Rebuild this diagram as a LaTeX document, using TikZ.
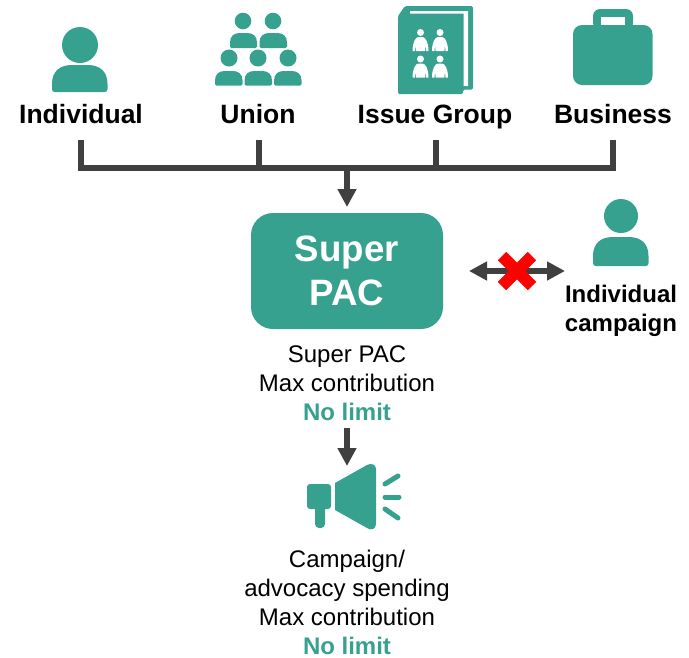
\documentclass[tikz,border=0pt]{standalone}
\usepackage{fontspec}
\setmainfont{Liberation Sans}
\usetikzlibrary{arrows.meta}
\definecolor{teal1}{HTML}{36A18E}
\definecolor{dark1}{HTML}{404040}
\newcommand{\pxfont}[2]{\fontsize{#1}{#2}\selectfont}
\newcommand{\bodyshape}[5]{% x1 x2 ytop ybottom radius
  \fill[teal1] (#1+#5*0.15,#4) -- (#2-#5*0.15,#4) .. controls (#2-#5*0.05,#4) and (#2,#4-#5*0.05) .. (#2,#4-#5*0.15)
  -- (#2,#3+#5*0.95) .. controls (#2,#3+#5*0.3) and (#2-#5*0.4,#3) .. (#2-#5,#3) -- (#1+#5,#3)
  .. controls (#1+#5*0.4,#3) and (#1,#3+#5*0.3) .. (#1,#3+#5*0.95) -- (#1,#4-#5*0.15) .. controls (#1,#4-#5*0.05) and (#1+#5*0.05,#4) .. (#1+#5*0.15,#4) -- cycle;}
\newcommand{\smallfig}[2]{%
  \begin{scope}[shift={(#1,#2)}]
  \fill[white] (0,-7) circle (3.5);
  \fill[white] (-8,11.5) .. controls (-8,3) and (-5,-2.5) .. (-2,-2.5) -- (2,-2.5) .. controls (5,-2.5) and (8,3) .. (8,11.5) -- (5.5,11.5) -- (5,5) -- (4.4,11.5) -- (-4.4,11.5) -- (-5,5) -- (-5.5,11.5) -- cycle;
  \end{scope}}
\tikzset{
  lbl/.style={font=\bfseries\pxfont{26.5}{30},text=black,inner sep=0pt,anchor=base},
  txt/.style={font=\pxfont{24}{29},text=black,align=center,inner sep=0pt},
  bus/.style={draw=dark1,line width=5.5pt},
  arr/.style={draw=dark1,line width=6pt,-{Triangle[length=18pt,width=18pt]}},
  darr/.style={draw=dark1,line width=6pt,{Triangle[length=18pt,width=18pt]}-{Triangle[length=18pt,width=18pt]}},
  pacbox/.style={fill=teal1,rounded corners=22pt,minimum width=192pt,minimum height=116pt,inner sep=0pt,align=center,text=white,font=\bfseries\pxfont{36.7}{44}},
  cross/.style={draw=red,line width=12pt},
  mega/.style={draw=teal1,line width=5pt,line cap=round},
}
\begin{document}
\begin{tikzpicture}[x=1pt,y=-1pt]
\useasboundingbox (0,0) rectangle (689,657);
% individual
\fill[teal1] (80,45) circle (18);
\bodyshape{52}{107.5}{65}{92}{20}
% union
\foreach \x in {243,273}{\fill[teal1] (\x,21) circle (8.3);}
\bodyshape{230}{257}{33}{48}{10}
\bodyshape{259.5}{287}{33}{48}{10}
\foreach \x in {229,258,288}{\fill[teal1] (\x,58) circle (8.5);}
\bodyshape{215}{242.5}{71}{85.5}{10}
\bodyshape{244.5}{272}{71}{85.5}{10}
\bodyshape{274}{301.5}{71}{85.5}{10}
% book
\fill[teal1,rounded corners=1.5pt] (398,16) -- (405,6) -- (473,6) -- (473,89.5) -- (463,89.5) -- (463,94) -- (398,94) -- cycle;
\fill[white] (410,11) -- (468,11) -- (468,86) -- (463.5,86) -- (463.5,13.5) -- (410,13.5) -- cycle;
\smallfig{420.5}{39.5}
\smallfig{440}{39.5}
\smallfig{420.5}{66}
\smallfig{440}{66}
% briefcase
\fill[teal1,rounded corners=7pt] (593,30) -- (593,9) -- (633,9) -- (633,30) -- cycle;
\fill[white] (601,17) rectangle (625,26);
\fill[teal1,rounded corners=9pt] (573,25) rectangle (652.5,85);
% labels
\node[lbl] (ind) at (81,123) {Individual};
\node[lbl] (uni) at (258,123) {Union};
\node[lbl] (iss) at (435,123) {Issue Group};
\node[lbl] (bus) at (613,123) {Business};
% bracket
\coordinate (b1) at (81,140);
\coordinate (b2) at (259,140);
\coordinate (b3) at (436,140);
\coordinate (b4) at (613,140);
\coordinate (bm) at (347,168);
\coordinate (bt) at (347,207);
\draw[bus,line join=miter] (b1) -- (81,168) -- (613,168) -- (b4);
\draw[bus] (b2) -- (259,168);
\draw[bus] (b3) -- (436,168);
% super pac
\node[pacbox] (pac) at (347,271) {Super\\PAC};
\draw[arr] (bm) -- (bt);
\node[txt] (t1) at (347,383) {Super PAC\\Max contribution\\\textcolor{teal1}{\bfseries No limit}};
% right person
\fill[teal1] (621,216) circle (17);
\bodyshape{593}{648.5}{237}{266}{20}
\node[txt,font=\bfseries\pxfont{24}{29}] (t2) at (621,311) {Individual\\campaign};
% double arrow
\coordinate (dl) at (469,271);
\coordinate (dr) at (565,271);
\draw[darr] (dl) -- (dr);
\draw[cross] (502,256) -- (532,286);
\draw[cross] (532,256) -- (502,286);
% down arrow
\coordinate (a1) at (347,428);
\coordinate (a2) at (347,466);
\draw[arr] (a1) -- (a2);
% megaphone
\fill[teal1,rounded corners=3pt] (307,484) rectangle (331,509);
\fill[teal1,rounded corners=4pt] (315,500) rectangle (325,528);
\fill[teal1] (335,483) -- (367,465) .. controls (371,463) and (376,464) .. (376,469) -- (376,524) .. controls (376,529) and (371,531) .. (367,528) -- (335,510) -- cycle;
\draw[mega] (385,484) -- (398,476);
\draw[mega] (385,497) -- (399,497);
\draw[mega] (385,509) -- (398,518);
\node[txt] (t3) at (347,602.5) {Campaign/\\advocacy spending\\Max contribution\\\textcolor{teal1}{\bfseries No limit}};
\end{tikzpicture}
\end{document}
